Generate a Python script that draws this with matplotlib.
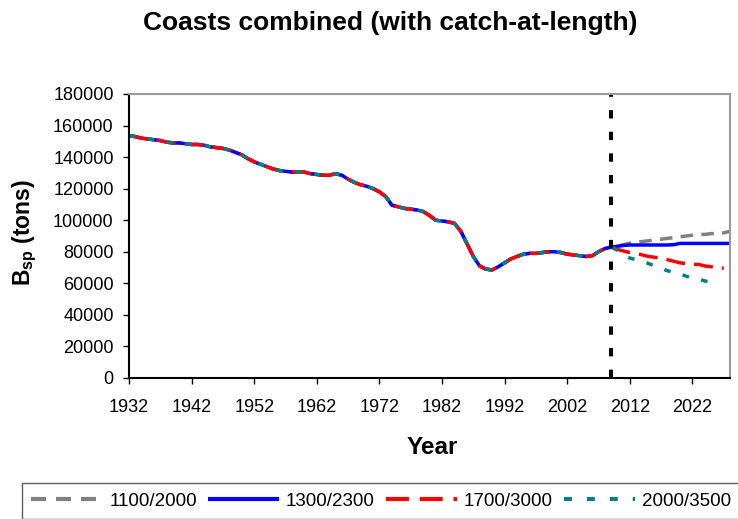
import matplotlib
matplotlib.use("Agg")
import matplotlib.pyplot as plt
import numpy as np

plt.rcParams['font.family'] = ['Liberation Sans', 'DejaVu Sans']
plt.rcParams['mathtext.fontset'] = 'custom'
plt.rcParams['mathtext.rm'] = 'Liberation Sans'
plt.rcParams['mathtext.bf'] = 'Liberation Sans:bold'
plt.rcParams['mathtext.it'] = 'Liberation Sans:italic'

# Spawning biomass (thousand tons), shared history 1932-2009
hist_years = np.arange(1932, 2010)
hist_k = [153.5, 153, 152, 151.5, 151, 150.5, 149.5, 149, 149, 148.5,
          148, 148, 147.5, 146.5, 146, 145.5, 144.5, 143, 141.5, 139,
          137, 135.5, 134, 132.5, 131.5, 131, 130.5, 130.5, 130.5, 129.5,
          129, 128.5, 128.5, 129.5, 128.5, 126, 124, 122.5, 121.5, 120,
          118, 115, 109.5, 108.5, 107.5, 107, 106.5, 105.5, 103, 100,
          99.5, 99, 98, 93, 85, 77, 71, 69, 68.5, 70.5,
          73, 75.5, 77, 78.5, 79, 79, 79.5, 80, 80, 79.5,
          78.5, 78, 77.5, 77, 77.5, 80, 82, 83]

# Projections from 2010 under each catch scenario
proj_1100 = [83.5, 84.5, 85.5, 86, 86.5, 87, 87.5, 88, 88.5, 89,
             89.5, 90, 90.5, 91, 91, 91.5, 91.5, 92, 93]
proj_1300 = [83.5, 84, 84.3, 84.3, 84.3, 84.3, 84.3, 84.3, 84.3, 84.5,
             85.3, 85.3, 85.3, 85.3, 85.3, 85.3, 85.3, 85.3, 85.3]
proj_1700 = [81.5, 80.5, 79.5, 79, 78, 77, 76.5, 76, 75, 74,
             73, 72.5, 72, 72, 71, 70.5, 70, 69.5]
proj_2000 = [81, 78, 76, 75, 74, 72.5, 71, 69.5, 68, 67,
             66, 64.5, 63.5, 62.5, 61.5, 60.5, 59]

labels = ['1100/2000', '1300/2300', '1700/3000', '2000/3500']
projections = [proj_1100, proj_1300, proj_1700, proj_2000]
colors = ['#808080', '#0000ff', '#ff0000', '#008080']
styles = [(0, (3.6, 2.4)), '-', (0, (5.5, 2.6)), (0, (1.9, 3.6))]

assessment_year = 2009

fig = plt.figure(figsize=(7.38, 5.19), dpi=100)
ax = fig.add_axes([129 / 738, 1 - 378 / 519, (730 - 129) / 738, (378 - 94) / 519])

for lab, proj, c, ls in zip(labels, projections, colors, styles):
    yrs = np.concatenate([hist_years, np.arange(2010, 2010 + len(proj))])
    vals = np.concatenate([hist_k, proj]) * 1000
    ax.plot(yrs, vals, color=c, linestyle=ls, linewidth=2.5, label=lab,
            solid_capstyle='butt', dash_capstyle='butt')

ax.axvline(assessment_year, color='black', linewidth=2.9,
           linestyle=(0, (2.07, 3.3)), dash_capstyle='butt')

ax.set_xlim(1932, 2028)
ax.set_ylim(0, 180000)
ax.set_xticks(np.arange(1932, 2023, 10))
ax.set_yticks(np.arange(0, 180001, 20000))
ax.tick_params(axis='both', labelsize=13, direction='out', length=4,
               width=1, colors='black')
ax.tick_params(axis='x', pad=11)
ax.tick_params(axis='y', pad=7)

for side in ['top', 'right']:
    ax.spines[side].set_color('#9a9a9a')
    ax.spines[side].set_linewidth(1.5)
for side in ['left', 'bottom']:
    ax.spines[side].set_color('black')
    ax.spines[side].set_linewidth(1.5)

fig.text(432 / 738, 1 - 447 / 519, 'Year', ha='center', va='center',
         fontsize=17.5, fontweight='bold')
fig.text(25 / 738, 1 - 233 / 519, r'$\mathbf{B_{sp}}$ (tons)', ha='center',
         va='center', rotation=90, fontsize=16.5, fontweight='bold')
fig.text(390 / 738, 1 - 23 / 519, 'Coasts combined (with catch-at-length)',
         ha='center', va='center', fontsize=19, fontweight='bold')

leg = fig.legend(loc='upper left', bbox_to_anchor=(22 / 738, 1 - 483 / 519),
                 ncol=4, fontsize=13.5, frameon=True, fancybox=False,
                 handlelength=3.8, handletextpad=0.35, columnspacing=0.6,
                 borderpad=0.5, borderaxespad=0)
leg.get_frame().set_edgecolor('#333333')
leg.get_frame().set_linewidth(1.0)
for line in leg.get_lines():
    line.set_linewidth(3.0)

fig.savefig('out.png', dpi=100)
